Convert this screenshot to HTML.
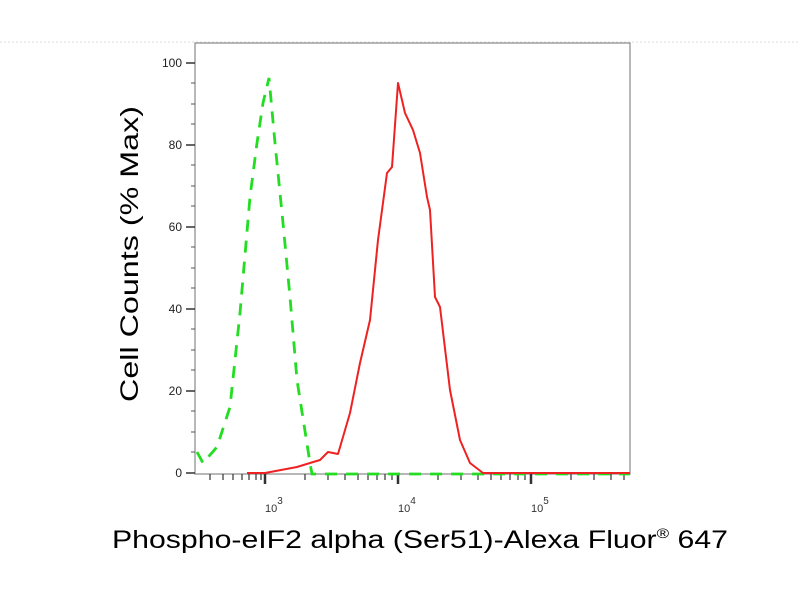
<!DOCTYPE html>
<html><head><style>body{margin:0;background:#fff}svg{display:block}</style></head><body>
<svg width="800" height="600" viewBox="0 0 800 600" xmlns="http://www.w3.org/2000/svg" font-family="Liberation Sans, Arial, sans-serif">
<line x1="0" y1="42" x2="800" y2="42" stroke="#ddd" stroke-dasharray="2,2"/>
<rect x="195" y="43" width="435" height="431" fill="none" stroke="#888" stroke-width="1.2"/>
<g stroke="#333" stroke-width="1.5">
<line x1="186" y1="473" x2="195" y2="473"/><line x1="186" y1="391" x2="195" y2="391"/><line x1="186" y1="309" x2="195" y2="309"/><line x1="186" y1="227" x2="195" y2="227"/><line x1="186" y1="145" x2="195" y2="145"/><line x1="186" y1="63" x2="195" y2="63"/>
</g>
<g stroke="#555" stroke-width="1">
<line x1="191" y1="432" x2="195" y2="432"/><line x1="191" y1="350" x2="195" y2="350"/><line x1="191" y1="268" x2="195" y2="268"/><line x1="191" y1="186" x2="195" y2="186"/><line x1="191" y1="104" x2="195" y2="104"/>
<line x1="191" y1="452" x2="195" y2="452"/><line x1="191" y1="411" x2="195" y2="411"/><line x1="191" y1="370" x2="195" y2="370"/><line x1="191" y1="329" x2="195" y2="329"/><line x1="191" y1="288" x2="195" y2="288"/><line x1="191" y1="247" x2="195" y2="247"/><line x1="191" y1="206" x2="195" y2="206"/><line x1="191" y1="165" x2="195" y2="165"/><line x1="191" y1="124" x2="195" y2="124"/><line x1="191" y1="83" x2="195" y2="83"/>
</g>
<g font-size="12" fill="#222" text-anchor="end">
<text x="182" y="477">0</text><text x="182" y="395">20</text><text x="182" y="313">40</text><text x="182" y="231">60</text><text x="182" y="149">80</text><text x="182" y="67">100</text>
</g>
<g stroke="#333" stroke-width="1.2">
<line x1="265" y1="474" x2="265" y2="484" stroke-width="2.5"/><line x1="398" y1="474" x2="398" y2="484" stroke-width="2.5"/><line x1="531" y1="474" x2="531" y2="484" stroke-width="2.5"/>
<line x1="210" y1="474" x2="210" y2="480"/><line x1="223" y1="474" x2="223" y2="480"/><line x1="233" y1="474" x2="233" y2="480"/><line x1="242" y1="474" x2="242" y2="480"/><line x1="249" y1="474" x2="249" y2="480"/><line x1="256" y1="474" x2="256" y2="480"/><line x1="261" y1="474" x2="261" y2="480"/>
<line x1="305" y1="474" x2="305" y2="480"/><line x1="328" y1="474" x2="328" y2="480"/><line x1="345" y1="474" x2="345" y2="480"/><line x1="358" y1="474" x2="358" y2="480"/><line x1="368" y1="474" x2="368" y2="480"/><line x1="377" y1="474" x2="377" y2="480"/><line x1="385" y1="474" x2="385" y2="480"/><line x1="392" y1="474" x2="392" y2="480"/>
<line x1="438" y1="474" x2="438" y2="480"/><line x1="461" y1="474" x2="461" y2="480"/><line x1="478" y1="474" x2="478" y2="480"/><line x1="491" y1="474" x2="491" y2="480"/><line x1="501" y1="474" x2="501" y2="480"/><line x1="510" y1="474" x2="510" y2="480"/><line x1="518" y1="474" x2="518" y2="480"/><line x1="525" y1="474" x2="525" y2="480"/>
<line x1="571" y1="474" x2="571" y2="480"/><line x1="594" y1="474" x2="594" y2="480"/><line x1="611" y1="474" x2="611" y2="480"/><line x1="624" y1="474" x2="624" y2="480"/>
</g>
<g font-size="11" fill="#333">
<text x="265" y="512">10<tspan font-size="10" dy="-8">3</tspan></text>
<text x="398" y="512">10<tspan font-size="10" dy="-8">4</tspan></text>
<text x="531" y="512">10<tspan font-size="10" dy="-8">5</tspan></text>
</g>
<polyline fill="none" stroke="#22dd22" stroke-width="2.8" stroke-dasharray="12,9" points="197,452 203,463 217,447 230,407 240,313 250,197 257,143 263,103 269,78 275,143 283,223 290,297 297,380 310,463 312,474 630,474"/>
<polyline fill="none" stroke="#ee2222" stroke-width="2" stroke-linejoin="round" points="247,473 265,473 297,467 310,463 320,460 328,452 338,454 350,413 360,363 370,320 378,240 387,173 392,167 398,83 405,113 413,130 420,153 427,197 430,210 435,297 440,307 450,390 460,440 470,463 483,473 630,473"/>
<text x="112" y="548" font-size="25" textLength="616" lengthAdjust="spacingAndGlyphs" fill="#000">Phospho-eIF2 alpha (Ser51)-Alexa Fluor<tspan font-size="14" dy="-10">®</tspan><tspan dy="10"> 647</tspan></text>
<text transform="translate(138,402) rotate(-90)" font-size="25" textLength="296" lengthAdjust="spacingAndGlyphs" fill="#000">Cell Counts (% Max)</text>
</svg>
</body></html>
